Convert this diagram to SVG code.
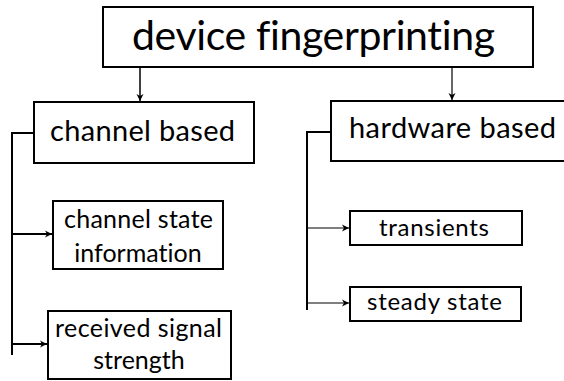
<svg xmlns="http://www.w3.org/2000/svg" width="564" height="381" viewBox="0 0 564 381">
<style>
.box{fill:#fff;stroke:#000;stroke-width:2}
.t{font-family:Lato,"Open Sans","Liberation Sans",sans-serif;fill:#000;font-variant-ligatures:none}
.c{fill:none;stroke:#000}
</style>
<defs>
<marker id="ah" markerWidth="8" markerHeight="8" refX="7" refY="4" orient="auto" markerUnits="userSpaceOnUse">
<path d="M0,0.5 L7,4 L0,7.5 L2,4 Z" fill="#000"/>
</marker>
</defs>
<rect width="564" height="381" fill="#fff"/>
<g id="connectors">
<line class="c" x1="140" y1="67" x2="140" y2="101" stroke-width="1.5" marker-end="url(#ah)"/>
<line class="c" x1="452" y1="67" x2="452" y2="100" stroke-width="1.2" marker-end="url(#ah)"/>
<polyline class="c" points="34,133 12,133 12,355" stroke-width="2"/>
<line class="c" x1="12" y1="234" x2="52" y2="234" stroke-width="2" marker-end="url(#ah)"/>
<line class="c" x1="12" y1="344" x2="47" y2="344" stroke-width="2" marker-end="url(#ah)"/>
<polyline class="c" points="331,132 307,132 307,310" stroke-width="2"/>
<line class="c" x1="307" y1="228" x2="349" y2="228" stroke-width="1.2" marker-end="url(#ah)"/>
<line class="c" x1="307" y1="303" x2="349" y2="303" stroke-width="1.2" marker-end="url(#ah)"/>
</g>
<g id="device-fingerprinting">
<rect class="box" x="103" y="7" width="430" height="60"/>
<text class="t" x="132" y="50" font-size="41" textLength="363" lengthAdjust="spacing">device fingerprinting</text>
</g>
<g id="channel-based">
<rect class="box" x="34" y="102" width="220" height="61"/>
<text class="t" x="50" y="141" font-size="29" textLength="185" lengthAdjust="spacing">channel based</text>
</g>
<g id="hardware-based">
<rect class="box" x="331" y="101" width="250" height="60"/>
<text class="t" x="349" y="138" font-size="29" textLength="207" lengthAdjust="spacing">hardware based</text>
</g>
<g id="channel-state-information">
<rect class="box" x="53" y="201" width="170" height="68"/>
<text class="t" x="64" y="228" font-size="25" textLength="149" lengthAdjust="spacing">channel state</text>
<text class="t" x="138" y="262" font-size="25" text-anchor="middle">information</text>
</g>
<g id="received-signal-strength">
<rect class="box" x="48" y="311" width="183" height="68"/>
<text class="t" x="55" y="337" font-size="25" textLength="167" lengthAdjust="spacing">received signal</text>
<text class="t" x="139" y="369" font-size="25" text-anchor="middle">strength</text>
</g>
<g id="transients">
<rect class="box" x="350" y="211" width="172" height="34"/>
<text class="t" x="379" y="236" font-size="24" textLength="110" lengthAdjust="spacing">transients</text>
</g>
<g id="steady-state">
<rect class="box" x="350" y="287" width="171" height="34"/>
<text class="t" x="367" y="310" font-size="24" textLength="135" lengthAdjust="spacing">steady state</text>
</g>
</svg>
